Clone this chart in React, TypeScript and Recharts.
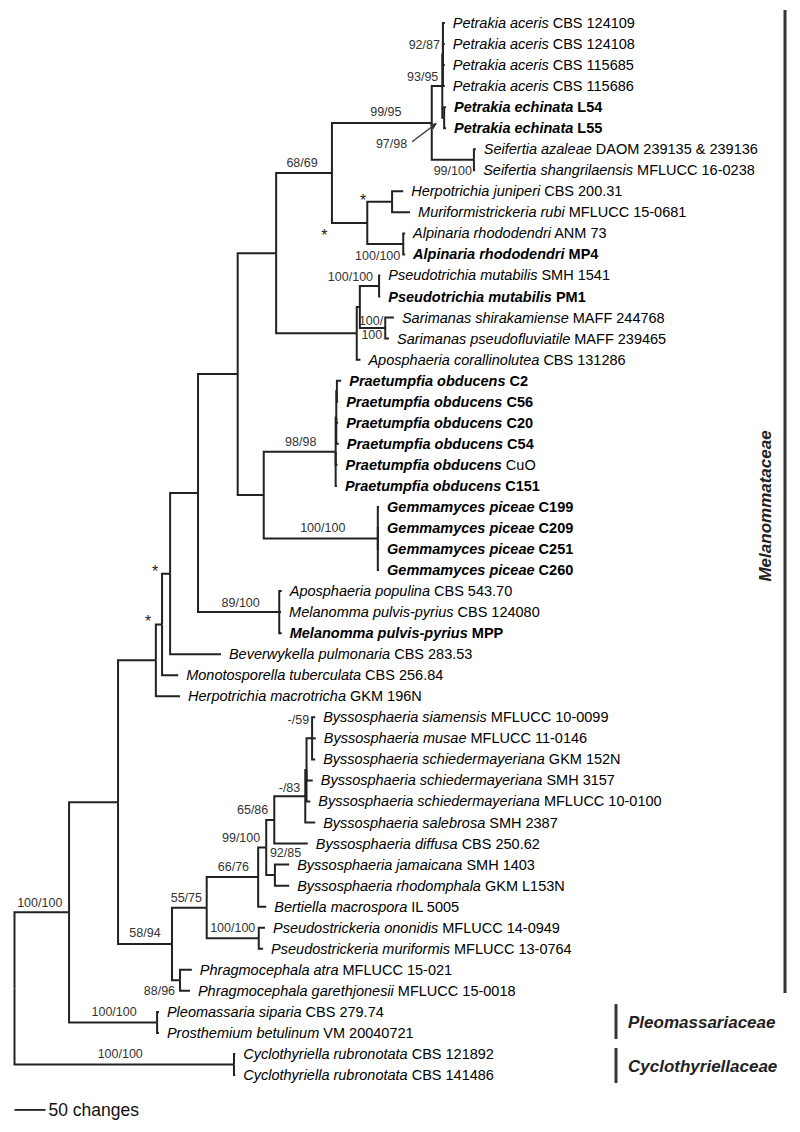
import React from "react";
import { ComposedChart, Line, Scatter, XAxis, YAxis } from "recharts";

// internal nodes of the tree, depth = distance from root in changes
const nodeIds = [
  "root", "IN", "ING", "U1", "U2", "U3", "U4", "U5", "U6", "U8", "A", "P", "ACE", "ECH", "SEI",
  "B", "C", "ALP", "U9", "D", "PST", "SAR", "U7", "PRA", "PRA2", "PRA3", "GEM", "MEL",
  "BYS", "E", "F", "G", "H", "J", "L", "K", "I", "PSK", "PHR", "PLE", "CYC",
];
const nodeParents = [
  null, "root", "IN", "ING", "U1", "U2", "U3", "U4", "U5", "U6", "U8", "A", "P", "P", "A",
  "U8", "B", "B", "U6", "U9", "D", "D", "U5", "U7", "PRA", "PRA2", "U7", "U4",
  "ING", "BYS", "E", "F", "G", "H", "J", "L", "G", "E", "BYS", "IN", "root",
];
const nodeDepths = [
  0, 88, 167, 228, 238, 251, 296, 360, 422, 512, 673, 690, 691, 693, 741,
  569, 609, 627, 552, 557, 588, 598, 402, 518, 519, 520, 586, 427,
  254, 310, 393, 406, 419, 469, 471, 480, 420, 394, 267, 230, 354,
];

// leaves, top to bottom
const taxa = [
  "Petrakia aceris", "Petrakia aceris", "Petrakia aceris", "Petrakia aceris",
  "Petrakia echinata", "Petrakia echinata", "Seifertia azaleae", "Seifertia shangrilaensis",
  "Herpotrichia juniperi", "Muriformistrickeria rubi", "Alpinaria rhododendri", "Alpinaria rhododendri",
  "Pseudotrichia mutabilis", "Pseudotrichia mutabilis", "Sarimanas shirakamiense", "Sarimanas pseudofluviatile",
  "Aposphaeria corallinolutea", "Praetumpfia obducens", "Praetumpfia obducens", "Praetumpfia obducens",
  "Praetumpfia obducens", "Praetumpfia obducens", "Praetumpfia obducens", "Gemmamyces piceae",
  "Gemmamyces piceae", "Gemmamyces piceae", "Gemmamyces piceae", "Aposphaeria populina",
  "Melanomma pulvis-pyrius", "Melanomma pulvis-pyrius", "Beverwykella pulmonaria", "Monotosporella tuberculata",
  "Herpotrichia macrotricha", "Byssosphaeria siamensis", "Byssosphaeria musae", "Byssosphaeria schiedermayeriana",
  "Byssosphaeria schiedermayeriana", "Byssosphaeria schiedermayeriana", "Byssosphaeria salebrosa", "Byssosphaeria diffusa",
  "Byssosphaeria jamaicana", "Byssosphaeria rhodomphala", "Bertiella macrospora", "Pseudostrickeria ononidis",
  "Pseudostrickeria muriformis", "Phragmocephala atra", "Phragmocephala garethjonesii", "Pleomassaria siparia",
  "Prosthemium betulinum", "Cyclothyriella rubronotata", "Cyclothyriella rubronotata",
];
const strains = [
  "CBS 124109", "CBS 124108", "CBS 115685", "CBS 115686",
  "L54", "L55", "DAOM 239135 & 239136", "MFLUCC 16-0238",
  "CBS 200.31", "MFLUCC 15-0681", "ANM 73", "MP4",
  "SMH 1541", "PM1", "MAFF 244768", "MAFF 239465",
  "CBS 131286", "C2", "C56", "C20",
  "C54", "CuO", "C151", "C199",
  "C209", "C251", "C260", "CBS 543.70",
  "CBS 124080", "MPP", "CBS 283.53", "CBS 256.84",
  "GKM 196N", "MFLUCC 10-0099", "MFLUCC 11-0146", "GKM 152N",
  "SMH 3157", "MFLUCC 10-0100", "SMH 2387", "CBS 250.62",
  "SMH 1403", "GKM L153N", "IL 5005", "MFLUCC 14-0949",
  "MFLUCC 13-0764", "MFLUCC 15-021", "MFLUCC 15-0018", "CBS 279.74",
  "VM 20040721", "CBS 121892", "CBS 141486",
];
const leafParents = [
  "ACE", "ACE", "ACE", "ACE", "ECH", "ECH", "SEI", "SEI",
  "C", "C", "ALP", "ALP", "PST", "PST", "SAR", "SAR",
  "U9", "PRA3", "PRA3", "PRA2", "PRA2", "PRA", "PRA", "GEM",
  "GEM", "GEM", "GEM", "MEL", "MEL", "MEL", "U3", "U2",
  "U1", "K", "K", "K", "L", "L", "J", "H",
  "I", "I", "F", "PSK", "PSK", "PHR", "PHR", "PLE",
  "PLE", "CYC", "CYC",
];
const leafDepths = [
  694, 694, 694, 694, 696, 696, 744, 743,
  627, 638, 630, 630, 590, 590, 612, 604,
  558, 527, 522, 522, 523, 521, 520, 588,
  588, 588, 588, 431, 430, 431, 333, 264,
  267, 485, 486, 485, 481, 477, 485, 473,
  443, 443, 406, 404, 401, 286, 283, 233,
  233, 356, 356,
];
// isolates sequenced in this study (bold)
const newIsolates = [4, 5, 11, 13, 17, 18, 19, 20, 21, 22, 23, 24, 25, 26, 29];
const plainStrain = [21];

// bootstrap support ML/MP, "*" = strong support
const supportNodes = [
  "A", "U8", "ACE", "P", "ECH", "SEI", "B", "C", "ALP", "PST", "SAR", "PRA", "GEM", "MEL",
  "U3", "U2", "IN", "BYS", "E", "F", "G", "H", "J", "K", "I", "PSK", "PHR", "PLE", "CYC",
];
const supportValues = [
  "99/95", "68/69", "92/87", "93/95", "97/98", "99/100", "*", "*", "100/100", "100/100", "100/100", "98/98", "100/100", "89/100",
  "*", "*", "100/100", "58/94", "55/75", "66/76", "99/100", "65/86", "-/83", "-/59", "92/85", "100/100", "88/96", "100/100", "100/100",
];

const families = ["Melanommataceae", "Pleomassariaceae", "Cyclothyriellaceae"];
const familyFirst = [0, 47, 49];
const familyLast = [46, 48, 50];

const scaleBarChanges = 50;

// ---- layout / style ----
const W = 800;
const H = 1132;
const ROOT_PX = 14.5;
const PX_PER_CHANGE = 0.62;
const TOP_PX = 23;
const ROW_PX = 21.04;
const X_DOMAIN = [-ROOT_PX / PX_PER_CHANGE, (W - ROOT_PX) / PX_PER_CHANGE];
const Y_DOMAIN = [-TOP_PX / ROW_PX, (H - TOP_PX) / ROW_PX];
const FONT = "'Liberation Sans', Arial, Helvetica, sans-serif";
const LINE = "#222";
const LABEL_GAP = 8;

type Place = { at: "mid" | "node"; dx: number; dy: number; anchor?: "start" | "middle" | "end"; arrow?: boolean; split?: boolean };
const supportPlace: Record<string, Place> = {
  A: { at: "mid", dx: 4, dy: -10.5 },
  U8: { at: "mid", dx: -2, dy: -10 },
  ACE: { at: "node", dx: -3, dy: -10, anchor: "end" },
  P: { at: "node", dx: -4, dy: -9, anchor: "end" },
  ECH: { at: "node", dx: -37, dy: 26, anchor: "end", arrow: true },
  SEI: { at: "node", dx: -2, dy: 11, anchor: "end" },
  B: { at: "node", dx: -43, dy: 9 },
  C: { at: "node", dx: -29, dy: -5 },
  ALP: { at: "node", dx: -3, dy: 12, anchor: "end" },
  PST: { at: "node", dx: -6, dy: -9, anchor: "end" },
  SAR: { at: "node", dx: -2, dy: -7.5, anchor: "end", split: true },
  PRA: { at: "mid", dx: 1, dy: -9.5 },
  GEM: { at: "mid", dx: 2, dy: -10.5 },
  MEL: { at: "mid", dx: 2, dy: -9 },
  U3: { at: "node", dx: -15, dy: -6 },
  U2: { at: "node", dx: -14, dy: -6.5 },
  IN: { at: "mid", dx: -2, dy: -9.6 },
  BYS: { at: "mid", dx: 0, dy: -11 },
  E: { at: "mid", dx: -3, dy: -10 },
  F: { at: "mid", dx: 1, dy: -10 },
  G: { at: "node", dx: -6, dy: -9.5, anchor: "end" },
  H: { at: "node", dx: -6, dy: -10, anchor: "end" },
  J: { at: "node", dx: -5, dy: -8, anchor: "end" },
  K: { at: "node", dx: -3, dy: -18, anchor: "end" },
  I: { at: "node", dx: -5, dy: -22, anchor: "start" },
  PSK: { at: "mid", dx: 0, dy: -10 },
  PHR: { at: "node", dx: -5, dy: 11, anchor: "end" },
  PLE: { at: "mid", dx: 1, dy: -10 },
  CYC: { at: "mid", dx: -4, dy: -10.5 },
};

const familyBarX = [(785 - ROOT_PX) / PX_PER_CHANGE, (616 - ROOT_PX) / PX_PER_CHANGE, (616 - ROOT_PX) / PX_PER_CHANGE];
const familyPad = [[0.62, 0.1], [0.37, 0.29], [0.28, 0.38]];
const scaleBarRow = taxa.length + 0.66;

// ---- tree geometry ----
const depthOf: Record<string, number> = {};
const parentOf: Record<string, string | null> = {};
nodeIds.forEach((id, i) => {
  depthOf[id] = nodeDepths[i];
  parentOf[id] = nodeParents[i];
});

const yCache: Record<string, number> = {};
function nodeY(id: string): number {
  if (yCache[id] !== undefined) return yCache[id];
  const ys: number[] = [];
  leafParents.forEach((p, i) => { if (p === id) ys.push(i); });
  nodeIds.forEach((n, i) => { if (nodeParents[i] === id) ys.push(nodeY(n)); });
  const y = (Math.min(...ys) + Math.max(...ys)) / 2;
  yCache[id] = y;
  return y;
}

const edges: { x: number; y: number }[][] = [];
nodeIds.forEach((id, i) => {
  const p = nodeParents[i];
  if (!p) return;
  edges.push([
    { x: depthOf[p], y: nodeY(p) },
    { x: depthOf[p], y: nodeY(id) },
    { x: nodeDepths[i], y: nodeY(id) },
  ]);
});
leafParents.forEach((p, i) => {
  edges.push([
    { x: depthOf[p], y: nodeY(p) },
    { x: depthOf[p], y: i },
    { x: leafDepths[i], y: i },
  ]);
});

const leafPoints = taxa.map((t, i) => ({
  x: leafDepths[i],
  y: i,
  taxon: t,
  strain: strains[i],
  bold: newIsolates.includes(i),
  strainBold: newIsolates.includes(i) && !plainStrain.includes(i),
}));

const supportPoints = supportNodes.map((id, i) => {
  const place = supportPlace[id];
  const p = parentOf[id] as string;
  const x = place.at === "mid" ? (depthOf[p] + depthOf[id]) / 2 : depthOf[id];
  return { x, y: nodeY(id), value: supportValues[i], place };
});

const familyPoints = families.map((f, i) => ({
  x: familyBarX[i],
  y: (familyFirst[i] - familyPad[i][0] + familyLast[i] + familyPad[i][1]) / 2,
  name: f,
  vertical: i === 0,
}));

const scalePoints = [{ x: scaleBarChanges, y: scaleBarRow, label: `${scaleBarChanges} changes` }];

function LeafLabel(props: any) {
  const { cx, cy, payload } = props;
  if (cx == null || cy == null) return null;
  return (
    <text x={cx + LABEL_GAP} y={cy} dominantBaseline="central" fontFamily={FONT} fontSize={14.5} fill="#000">
      <tspan fontStyle="italic" fontWeight={payload.bold ? 700 : 400}>{payload.taxon}</tspan>
      <tspan fontWeight={payload.strainBold ? 700 : 400}>{" " + payload.strain}</tspan>
    </text>
  );
}

function SupportLabel(props: any) {
  const { cx, cy, payload } = props;
  if (cx == null || cy == null) return null;
  const pl: Place = payload.place;
  const x = cx + pl.dx;
  const y = cy + pl.dy;
  if (payload.value === "*") {
    return (
      <text x={x} y={y + 9.3} textAnchor="middle" fontFamily={FONT} fontSize={16} fill="#222">*</text>
    );
  }
  const common = { fontFamily: FONT, fontSize: 12.5, fill: "#333", textAnchor: pl.anchor || "middle", dominantBaseline: "central" } as any;
  if (pl.split) {
    const cut = payload.value.indexOf("/") + 1;
    return (
      <g>
        <text x={x} y={y} {...common}>{payload.value.slice(0, cut)}</text>
        <text x={x - 1} y={y + 14} {...common}>{payload.value.slice(cut)}</text>
      </g>
    );
  }
  let arrow = null;
  if (pl.arrow) {
    const x1 = cx - 32, y1 = cy + 24, x2 = cx - 7, y2 = cy + 5;
    const a = Math.atan2(y2 - y1, x2 - x1);
    const bx = x2 - 7 * Math.cos(a), by = y2 - 7 * Math.sin(a);
    const s = Math.sin(a), c = Math.cos(a);
    arrow = (
      <g>
        <line x1={x1} y1={y1} x2={bx} y2={by} stroke="#333" strokeWidth={1.3} />
        <polygon points={`${x2},${y2} ${bx + 3 * s},${by - 3 * c} ${bx - 3 * s},${by + 3 * c}`} fill="#333" />
      </g>
    );
  }
  return (
    <g>
      {arrow}
      <text x={x} y={y} {...common}>{payload.value}</text>
    </g>
  );
}

function FamilyLabel(props: any) {
  const { cx, cy, payload } = props;
  if (cx == null || cy == null) return null;
  if (payload.vertical) {
    const x = cx - 19;
    const y = cy + 4.5;
    return (
      <text x={x} y={y} transform={`rotate(-90 ${x} ${y})`} textAnchor="middle" dominantBaseline="central"
        fontFamily={FONT} fontSize={17} fontWeight={700} fontStyle="italic" fill="#222">{payload.name}</text>
    );
  }
  return (
    <text x={cx + 12} y={cy + 1} dominantBaseline="central" fontFamily={FONT} fontSize={17} fontWeight={700}
      fontStyle="italic" fill="#222">{payload.name}</text>
  );
}

function ScaleLabel(props: any) {
  const { cx, cy, payload } = props;
  if (cx == null || cy == null) return null;
  return (
    <text x={cx + 3} y={cy} dominantBaseline="central" fontFamily={FONT} fontSize={17.5} fill="#111">{payload.label}</text>
  );
}

export default function App() {
  return (
    <div style={{ position: "absolute", left: 0, top: 0, width: W, height: H, background: "#fff" }}>
      <ComposedChart width={W} height={H} margin={{ top: 0, right: 0, bottom: 0, left: 0 }}>
        <XAxis type="number" dataKey="x" domain={X_DOMAIN} allowDataOverflow hide />
        <YAxis type="number" dataKey="y" domain={Y_DOMAIN} allowDataOverflow reversed hide />
        {edges.map((seg, i) => (
          <Line key={`e${i}`} data={seg} dataKey="y" stroke={LINE} strokeWidth={2} dot={false} activeDot={false}
            isAnimationActive={false} />
        ))}
        {families.map((f, i) => (
          <Line key={`f${i}`} dataKey="y" stroke="#333" strokeWidth={3} dot={false} activeDot={false} isAnimationActive={false}
            data={[
              { x: familyBarX[i], y: familyFirst[i] - familyPad[i][0] },
              { x: familyBarX[i], y: familyLast[i] + familyPad[i][1] },
            ]} />
        ))}
        <Line dataKey="y" stroke={LINE} strokeWidth={1.8} dot={false} activeDot={false} isAnimationActive={false}
          data={[{ x: 0, y: scaleBarRow }, { x: scaleBarChanges, y: scaleBarRow }]} />
        <Scatter data={leafPoints} shape={LeafLabel} isAnimationActive={false} />
        <Scatter data={supportPoints} shape={SupportLabel} isAnimationActive={false} />
        <Scatter data={familyPoints} shape={FamilyLabel} isAnimationActive={false} />
        <Scatter data={scalePoints} shape={ScaleLabel} isAnimationActive={false} />
      </ComposedChart>
    </div>
  );
}
